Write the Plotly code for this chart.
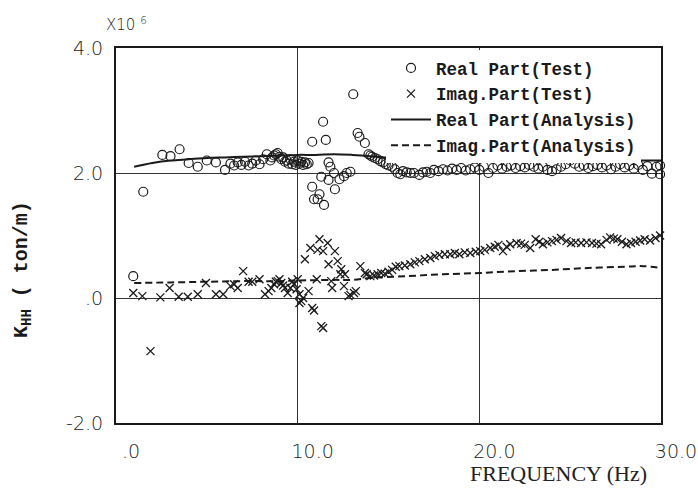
import plotly.graph_objects as go

# ---------------- data (values in units of 10^6 ton/m) ----------------
real_test_freq = [0.95, 1.5, 2.55, 3.0, 3.5, 4.0, 4.5, 5.0, 5.5, 6.0, 6.3, 6.5, 6.7, 6.9, 7.1, 7.3,
                  7.5, 7.7, 7.9, 8.1, 8.3, 8.5, 8.6, 8.7, 8.8, 8.9, 9.0, 9.1, 9.2, 9.3, 9.4, 9.5,
                  9.6, 9.7, 9.8, 9.9, 10.0, 10.1, 10.2, 10.3, 10.4, 10.5, 10.6, 10.8, 10.8, 10.9,
                  11.1, 11.2, 11.3, 11.4, 11.45, 11.55, 11.7, 11.7, 11.8, 12.0, 12.05, 12.3, 12.55,
                  12.7, 12.9, 13.06, 13.3, 13.4, 13.7, 13.9, 14.0, 14.1, 14.25, 14.4, 14.55, 14.7,
                  14.85, 15.0, 15.2, 15.35, 15.5, 15.65, 15.8, 16.0, 16.2, 16.4, 16.7, 16.9, 17.1,
                  17.3, 17.5, 17.75, 18.0, 18.25, 18.5, 18.75, 19.0, 19.25, 19.5, 19.75, 20.0, 20.25,
                  20.5, 20.75, 21.0, 21.25, 21.5, 21.75, 22.0, 22.25, 22.5, 22.75, 23.0, 23.25, 23.5,
                  23.75, 24.0, 24.25, 24.5, 24.75, 25.0, 25.25, 25.5, 25.75, 26.0, 26.25, 26.5, 26.75,
                  27.0, 27.25, 27.5, 27.75, 28.0, 28.25, 28.5, 28.75, 29.0, 29.25, 29.5, 29.75, 29.95, 29.95]
real_test_val = [0.35, 1.7, 2.29, 2.27, 2.38, 2.16, 2.1, 2.2, 2.17, 2.05, 2.15, 2.12, 2.17, 2.13, 2.18, 2.12,
                 2.15, 2.2, 2.14, 2.22, 2.3, 2.2, 2.25, 2.28, 2.3, 2.32, 2.26, 2.22, 2.25, 2.18, 2.2, 2.15,
                 2.22, 2.14, 2.18, 2.13, 2.2, 2.15, 2.18, 2.13, 2.17, 2.14, 2.16, 2.5, 1.78, 1.58,
                 1.58, 1.66, 1.94, 2.82, 1.49, 2.53, 2.17, 1.89, 2.1, 2.0, 1.74, 1.9, 1.95,
                 2.0, 2.02, 3.26, 2.64, 2.58, 2.48, 2.3, 2.28, 2.26, 2.24, 2.22, 2.19, 2.17,
                 2.14, 2.12, 2.1, 2.06, 2.0, 1.98, 2.03, 2.01, 2.0, 2.0, 1.97, 2.01, 2.02,
                 2.0, 2.05, 2.03, 2.06, 2.04, 2.07, 2.05, 2.08, 2.04, 2.06, 2.09, 2.05, 2.1,
                 2.0, 2.08, 2.12, 2.07, 2.1, 2.12, 2.08, 2.11, 2.09, 2.13, 2.1, 2.07, 2.1,
                 2.05, 2.03, 2.06, 2.1, 2.14, 2.2, 2.15, 2.1, 2.12, 2.08, 2.11, 2.13, 2.09,
                 2.12, 2.06, 2.1, 2.14, 2.09, 2.12, 2.07, 2.13, 2.05, 2.11, 1.99, 2.1, 1.98, 2.12]

imag_test_freq = [0.95, 1.45, 1.9, 2.44, 2.95, 3.45, 3.95, 4.5, 4.95, 5.5, 5.9, 6.3, 6.5, 6.7, 7.0, 7.3,
                  7.5, 7.9, 8.2, 8.4, 8.55, 8.7, 8.8, 8.9, 9.0, 9.1, 9.2, 9.3, 9.45, 9.6, 9.7, 9.8,
                  9.94, 10.0, 10.1, 10.1, 10.2, 10.3, 10.4, 10.6, 10.7, 10.8, 10.9, 11.05, 11.1, 11.2,
                  11.3, 11.4, 11.4, 11.65, 11.7, 11.85, 11.9, 12.05, 12.2, 12.35, 12.4, 12.55, 12.6,
                  12.8, 12.9, 13.1, 13.2, 13.45, 13.7, 13.8, 14.0, 14.2, 14.4, 14.6, 14.8, 15.0, 15.2,
                  15.4, 15.6, 15.9, 16.2, 16.45, 16.7, 17.0, 17.3, 17.55, 17.8, 18.1, 18.4, 18.65,
                  18.9, 19.2, 19.5, 19.8, 20.05, 20.3, 20.6, 20.85, 21.05, 21.3, 21.5, 21.7, 22.05,
                  22.3, 22.5, 22.8, 23.1, 23.3, 23.5, 23.75, 24.0, 24.25, 24.5, 24.8, 25.05, 25.3,
                  25.6, 25.9, 26.2, 26.45, 26.7, 27.0, 27.2, 27.4, 27.6, 27.85, 28.1, 28.35, 28.6,
                  28.85, 29.1, 29.4, 29.7, 29.95]
imag_test_val = [0.08, 0.03, -0.85, 0.01, 0.16, 0.02, 0.02, 0.06, 0.24, 0.06, 0.06, 0.19, 0.22, 0.16, 0.43, 0.26,
                 0.26, 0.3, 0.06, 0.11, 0.16, 0.22, 0.26, 0.27, 0.3, 0.24, 0.2, 0.16, 0.08, 0.16, 0.26, 0.22,
                 0.14, 0.3, 0.06, -0.08, -0.05, 0.0, 0.62, 0.11, 0.8, -0.16, -0.2, 0.3, 0.77, 0.94,
                 -0.45, -0.48, 0.75, 0.88, 0.54, 0.27, 0.16, 0.75, 0.59, 0.38, 0.46, 0.19, 0.38,
                 0.03, 0.05, 0.08, 0.11, 0.51, 0.4, 0.38, 0.35, 0.36, 0.38, 0.4, 0.39, 0.42, 0.45,
                 0.5, 0.51, 0.52, 0.54, 0.57, 0.59, 0.62, 0.64, 0.67, 0.69, 0.7, 0.7, 0.72,
                 0.7, 0.73, 0.72, 0.74, 0.75, 0.77, 0.8, 0.82, 0.85, 0.75, 0.82, 0.86, 0.88,
                 0.87, 0.85, 0.8, 0.94, 0.9, 0.86, 0.89, 0.91, 0.93, 0.96, 0.91, 0.88, 0.89,
                 0.88, 0.89, 0.88, 0.87, 0.86, 0.93, 0.97, 0.95, 0.94, 0.9, 0.86, 0.88, 0.9,
                 0.92, 0.94, 0.92, 0.96, 1.0]

real_ana_freq = [1.0, 2, 3, 4, 5, 6, 7, 8, 9, 10, 11, 12, 13, 14, 15, 16, 18, 20, 22, 24, 26, 28, 30]
real_ana_val = [2.1, 2.16, 2.2, 2.22, 2.24, 2.25, 2.26, 2.27, 2.28, 2.29, 2.29, 2.3, 2.29, 2.27, 2.24,
                2.22, 2.21, 2.2, 2.2, 2.2, 2.2, 2.2, 2.2]

imag_ana_freq = [1.0, 3, 5, 7, 9, 10, 12, 13, 14, 16, 18, 20, 22, 24, 26, 28, 29, 30]
imag_ana_val = [0.24, 0.25, 0.26, 0.27, 0.27, 0.28, 0.29, 0.29, 0.32, 0.35, 0.38, 0.4, 0.43, 0.45,
                0.48, 0.5, 0.51, 0.48]

x_tickvals = [0, 10, 20, 30]
x_ticktext = [".0", "10.0", "20.0", "30.0"]
y_tickvals = [-2, 0, 2, 4]
y_ticktext = ["-2.0", ".0", "2.0", "4.0"]

# ---------------- figure ----------------
INK = "#1a1a1a"
fig = go.Figure()
fig.add_trace(go.Scatter(x=real_test_freq, y=real_test_val, mode="markers", name="Real Part(Test)",
                         marker=dict(symbol="circle-open", size=9, color=INK, line=dict(width=1.2, color=INK)),
                         cliponaxis=False))
fig.add_trace(go.Scatter(x=imag_test_freq, y=imag_test_val, mode="markers", name="Imag.Part(Test)",
                         marker=dict(symbol="x-thin-open", size=8, color=INK, line=dict(width=1.3, color=INK)),
                         cliponaxis=False))
fig.add_trace(go.Scatter(x=real_ana_freq, y=real_ana_val, mode="lines", name="Real Part(Analysis)",
                         line=dict(color=INK, width=2, shape="spline")))
fig.add_trace(go.Scatter(x=imag_ana_freq, y=imag_ana_val, mode="lines", name="Imag.Part(Analysis)",
                         line=dict(color=INK, width=2, dash="7px,4px", shape="spline")))

W, H = 698, 493
L, R, T, B = 116, 37, 48, 70
pw, ph = W - L - R, H - T - B


def px(xp):
    return (xp - L) / pw


def py(yp):
    return (H - B - yp) / ph


tick_font = dict(family="DejaVu Sans", size=19, color="#222", weight=300)

fig.update_layout(
    width=W, height=H,
    margin=dict(l=L, r=R, t=T, b=B, pad=0, autoexpand=False),
    paper_bgcolor="white", plot_bgcolor="white",
    showlegend=True,
    legend=dict(x=px(386), xanchor="left", y=py(50), yanchor="top",
                bgcolor="white", borderwidth=0,
                font=dict(family="Liberation Mono", size=17.5, color=INK, weight="bold"),
                itemwidth=40, tracegroupgap=0),
    xaxis=dict(range=[0, 30], tickvals=x_tickvals, ticktext=x_ticktext, automargin=False,
               showline=True, linecolor=INK, linewidth=2, mirror=True,
               showgrid=True, gridcolor="#333", gridwidth=1, zeroline=False,
               ticks="", tickfont=tick_font, ticklabelstandoff=10, ticklabelshift=15),
    yaxis=dict(range=[-2, 4], tickvals=y_tickvals, ticktext=y_ticktext, automargin=False,
               showline=True, linecolor=INK, linewidth=2, mirror=True,
               showgrid=True, gridcolor="#333", gridwidth=1, zeroline=False,
               ticks="", tickfont=tick_font, ticklabelstandoff=7),
)

fig.add_annotation(text="X10 <sup>6</sup>", xref="paper", yref="paper", x=px(104), y=py(24),
                   xanchor="left", yanchor="middle", showarrow=False,
                   font=dict(family="DejaVu Sans", size=15, color="#222", weight=300))
fig.add_annotation(text="<b>K<sub>HH</sub> ( ton/m)</b>", xref="paper", yref="paper",
                   x=px(22), y=py(270), xanchor="center", yanchor="middle", textangle=-90,
                   showarrow=False, font=dict(family="Liberation Mono", size=20, color=INK))
fig.add_annotation(text="FREQUENCY (Hz)", xref="paper", yref="paper",
                   x=px(558), y=py(473), xanchor="center", yanchor="middle", showarrow=False,
                   font=dict(family="Liberation Serif", size=22, color="#222"))

fig.write_html("out.html", config={"displayModeBar": False},
               post_script="document.body.style.margin='0';")
